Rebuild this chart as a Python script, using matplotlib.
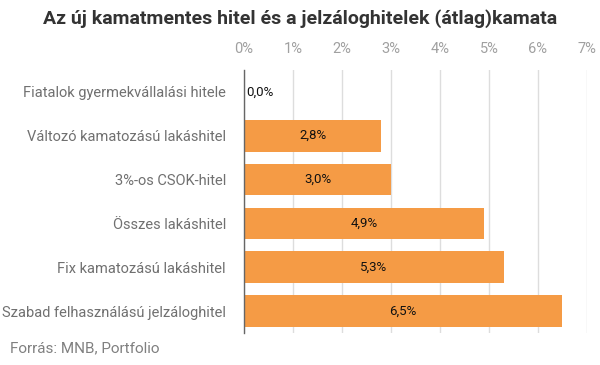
import matplotlib
matplotlib.use("Agg")
import matplotlib.pyplot as plt

categories = [
    "Fiatalok gyermekvállalási hitele",
    "Változó kamatozású lakáshitel",
    "3%-os CSOK-hitel",
    "Összes lakáshitel",
    "Fix kamatozású lakáshitel",
    "Szabad felhasználású jelzáloghitel",
]
rates = [0.0, 2.8, 3.0, 4.9, 5.3, 6.5]
ticks = [0, 1, 2, 3, 4, 5, 6, 7]

plt.rcParams["font.family"] = ["Roboto", "DejaVu Sans"]

fig = plt.figure(figsize=(6, 3.65), dpi=100)
ax = fig.add_axes([0.4067, 0.0877, 0.5716, 0.7205])

y = list(range(len(categories)))
ax.barh(y, rates, height=0.72, color="#F59B45", zorder=2)
for yi, v in zip(y, rates):
    label = f"{v:.1f}%".replace(".", ",")
    if v < 0.5:
        ax.text(0.05, yi, label, ha="left", va="center", fontsize=9.5, color="#111111", zorder=3)
    else:
        ax.text(v / 2, yi, label, ha="center", va="center", fontsize=9.5, color="#111111", zorder=3)

ax.set_xlim(0, 7)
ax.set_ylim(len(categories) - 0.5, -0.5)
ax.set_xticks(ticks)
ax.set_xticklabels([f"{t}%" for t in ticks])
ax.xaxis.tick_top()
ax.tick_params(axis="x", length=0, pad=10, labelsize=10.5, labelcolor="#a0a0a0")
ax.set_yticks(y)
ax.set_yticklabels(categories)
ax.tick_params(axis="y", length=0, pad=13, labelsize=10.5, labelcolor="#707070")
ax.grid(axis="x", color="#dddddd", linewidth=1, zorder=0)
for s in ["top", "right", "bottom"]:
    ax.spines[s].set_visible(False)
ax.spines["left"].set_color("#666666")
ax.spines["left"].set_linewidth(1)
ax.spines["left"].set_zorder(4)

fig.text(0.5, 0.95, "Az új kamatmentes hitel és a jelzáloghitelek (átlag)kamata",
         ha="center", va="center", fontsize=14, fontweight="bold", color="#333333")
fig.text(0.017, 0.045, "Forrás: MNB, Portfolio", ha="left", va="center",
         fontsize=11, color="#808080")

fig.savefig("out.png", dpi=100)
